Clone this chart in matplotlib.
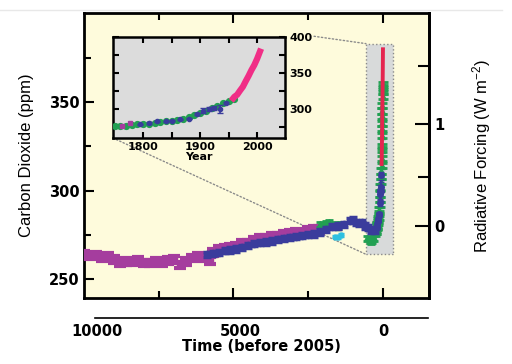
import matplotlib
matplotlib.use('Agg')
import matplotlib.pyplot as plt
from matplotlib.patches import Rectangle, ConnectionPatch
from matplotlib.lines import Line2D
from matplotlib.ticker import FixedLocator
import numpy as np

plt.rcParams['font.family'] = ['DejaVu Sans']
plt.rcParams['mathtext.fontset'] = 'custom'
plt.rcParams['mathtext.rm'] = 'Liberation Sans'
plt.rcParams['mathtext.it'] = 'Liberation Sans'

# ---------------- data ----------------
# long-term ice-core records (years before 2005, ppm)
magenta_bp = [10000, 9800, 9600, 9400, 9200, 9000, 8800, 8600, 8400, 8200, 8000, 7800,
              7600, 7400, 7200, 7000, 6800, 6600, 6400, 6200, 6000, 5800, 5700, 5500,
              5300, 5100, 4900, 4700, 4500, 4300, 4100, 3900, 3700, 3500, 3300, 3100,
              2900, 2700, 2500, 2300, 2150]
magenta_ppm = [264, 263, 263.5, 262, 263, 261, 259, 260, 259.5, 260.5, 259, 259,
               260, 259, 260.5, 261, 258, 260, 262, 263, 262, 260.5, 265, 267,
               267.5, 268, 268.5, 270, 270.5, 272, 273, 273, 274, 274.5, 275.5, 276,
               276.5, 276, 277.5, 278, 278]

blue_bp = [5900, 5700, 5500, 5300, 5100, 4900, 4700, 4500, 4300, 4100, 3900, 3700,
           3500, 3300, 3100, 2900, 2700, 2500, 2300, 2100, 1900, 1700, 1500, 1300,
           1100, 1000, 900, 800, 700, 600, 500, 400, 300, 250]
blue_ppm = [264, 264.5, 265, 266, 266.5, 267, 268, 269, 270, 270.5, 271, 271.5,
            272.5, 273, 273.5, 274, 274.5, 275, 275.5, 276.5, 278, 279.5, 280, 281,
            283, 283.5, 282, 281.5, 282, 280, 279, 277.5, 278, 277.5]

green_bp = [2100, 2000, 1900, 1800, 1700, 1600, 1500, 1400, 550, 450, 400, 350, 300]
green_ppm = [281, 280, 281.5, 282, 280, 280.5, 279.5, 281, 273, 272, 271.5, 272, 273]

cyan_bp = [1600, 1500, 1400]
cyan_ppm = [274, 273.5, 275]

# recent records (calendar year, ppm)
green_yr = [1750, 1760, 1770, 1780, 1790, 1800, 1810, 1820, 1830, 1840, 1850, 1860,
            1870, 1880, 1890, 1900, 1910, 1920, 1930, 1940, 1950, 1960]
green_yr_ppm = [276, 277, 277, 278, 279, 280, 280, 281, 282, 283, 284, 285,
                287, 289, 292, 295, 298, 302, 305, 308, 311, 314]

blue_yr = [1795, 1810, 1825, 1840, 1850, 1865, 1880, 1895, 1905, 1915, 1925, 1935, 1945]
blue_yr_ppm = [279, 281, 283, 283, 284, 286, 287, 293, 298, 300, 302, 300, 309]
blue_yr_err = [1, 1, 1, 1, 1, 1, 1, 1.5, 3, 3, 3, 6, 1.5]

magenta_yr = [1762, 1777]
magenta_yr_ppm = [277, 281]

mlo_yr = [1958, 1960, 1965, 1970, 1975, 1980, 1985, 1990, 1995, 2000, 2005]
mlo_ppm = [315, 317, 320, 325.7, 331, 338.7, 346, 354, 361, 369.7, 379.8]

green_recent_yr = [1962, 1968, 1970, 1975, 1978, 1980, 1983, 1985, 1987, 1990, 1992, 1993, 1995]
green_recent_ppm = [318, 323, 325, 331, 335, 338, 342, 345, 348, 353, 356, 358, 360]

rf_major = [0, 1]
rf_minor = [0.5, 1.5]
rf_c0 = 280.0

x_ticklabels = [10000, 5000, 0]

MAG = '#A53D9E'
BLU = '#3A3C9C'
GRN = '#22A052'
CYN = '#2EC0E0'
RED = '#E5244F'
PNK = '#F02E86'

W, H = 512, 364
fig = plt.figure(figsize=(5.12, 3.64), dpi=100)


def fx(px):
    return px / W


def fy(py):
    return 1 - py / H


fig.add_artist(Line2D([0, fx(502)], [fy(10), fy(10)], color='#E8E8E8', lw=1))

ax = fig.add_axes([fx(84), fy(298), fx(429) - fx(84), fy(13) - fy(298)])
ax.set_xlim(10000, -1540)
ax.set_ylim(239.3, 400.3)
ax.set_facecolor('#FEFBDC')
for s in ax.spines.values():
    s.set_linewidth(2)

# gray highlight box
box_x0, box_x1, box_y0, box_y1 = 570, -335, 264, 383
ax.add_patch(Rectangle((box_x1, box_y0), box_x0 - box_x1, box_y1 - box_y0,
                       facecolor='#D8DADA', edgecolor='#8A8A8A', lw=1, ls=':', zorder=1))

def bp(years):
    return [2005 - y for y in years]

ax.errorbar(magenta_bp, magenta_ppm, yerr=1.8, fmt='s', color=MAG, ms=4.5,
            elinewidth=2.5, capsize=4, capthick=3, zorder=3)
ax.errorbar(blue_bp, blue_ppm, yerr=1.5, fmt='o', color=BLU, ms=4.5,
            elinewidth=2, capsize=3, capthick=2.5, zorder=4)
ax.errorbar(cyan_bp, cyan_ppm, yerr=1, fmt='o', color=CYN, ms=3.5,
            elinewidth=1, capsize=2, zorder=3)
ax.errorbar(green_bp, green_ppm, yerr=1.5, fmt='^', color=GRN, ms=4.5,
            elinewidth=1.5, capsize=3, capthick=2, zorder=3.5)
ax.errorbar(bp(green_yr), green_yr_ppm, yerr=1.5, fmt='^', color=GRN, ms=4.5,
            elinewidth=1.5, capsize=3.5, capthick=2, zorder=3.5)
ax.errorbar(bp(green_recent_yr), green_recent_ppm, yerr=1.5, fmt='^', color=GRN, ms=4,
            elinewidth=1.5, capsize=3.5, capthick=2, zorder=3.5)
ax.errorbar(bp(blue_yr), blue_yr_ppm, yerr=blue_yr_err, fmt='o', color=BLU, ms=4,
            elinewidth=1.5, capsize=2.5, zorder=4)
ax.errorbar(bp(magenta_yr), magenta_yr_ppm, yerr=1.8, fmt='s', color=MAG, ms=3,
            elinewidth=1.5, capsize=3, zorder=3)
ax.plot(bp(mlo_yr), mlo_ppm, color=RED, lw=2.8, zorder=5)

ax.set_yticks([250, 300, 350])
ax.set_yticks([275, 325, 375], minor=True)
ax.set_xticks([5000, 0])
ax.set_xticks([7500, 2500], minor=True)
ax.tick_params(which='both', direction='in', top=True, bottom=True, left=True,
               right=False, labelbottom=False, width=1.5)
ax.tick_params(which='major', length=7, labelsize=10.5, pad=3)
ax.tick_params(which='minor', length=5)
for lab in ax.get_yticklabels():
    lab.set_fontweight('bold')
ax.set_ylabel('Carbon Dioxide (ppm)', family='Liberation Sans', fontsize=12, labelpad=11)

# radiative forcing axis
sec = ax.secondary_yaxis('right', functions=(lambda c: 5.35 * np.log(np.clip(c, 1e-6, None) / rf_c0),
                                             lambda f: rf_c0 * np.exp(np.asarray(f) / 5.35)))
sec.set_yticks(rf_major)
sec.yaxis.set_minor_locator(FixedLocator(rf_minor))
sec.tick_params(which='both', direction='in', width=1.5, labelsize=10.5, pad=4)
sec.tick_params(which='major', length=10)
sec.tick_params(which='minor', length=8)
for lab in sec.get_yticklabels():
    lab.set_fontweight('bold')
sec.spines['right'].set_linewidth(2)
sec.set_ylabel(r'Radiative Forcing (W m$^{-2}$)', family='Liberation Sans', fontsize=12,
               labelpad=18)

# detached time axis
lx0, lx1 = 95, 428
axl = fig.add_axes([fx(lx0), fy(318), fx(lx1) - fx(lx0), 0.0001])
axl.set_xlim(10070, -1573)
axl.set_facecolor('none')
axl.patch.set_visible(False)
for k in ['top', 'left', 'right']:
    axl.spines[k].set_visible(False)
axl.spines['bottom'].set_linewidth(1.2)
axl.set_yticks([])
axl.set_xticks(x_ticklabels)
axl.set_xticklabels([str(v) for v in x_ticklabels], fontweight='bold', fontsize=10.5)
axl.tick_params(axis='x', length=0, pad=4)
axl.set_xlabel('Time (before 2005)', fontweight='bold', fontsize=10.5, labelpad=0)

# inset
axi = fig.add_axes([fx(113), fy(138), fx(285) - fx(113), fy(37) - fy(138)])
axi.set_xlim(1747, 2049)
axi.set_ylim(260, 400)
axi.set_facecolor('#DCDCDC')
for s in axi.spines.values():
    s.set_linewidth(1.8)
axi.plot(green_yr, green_yr_ppm, 'o', color=GRN, ms=4.2, zorder=3)
axi.errorbar(blue_yr, blue_yr_ppm, yerr=blue_yr_err, fmt='o', color=BLU, ms=3,
             elinewidth=1.2, capsize=2, zorder=4)
axi.errorbar(magenta_yr, magenta_yr_ppm, yerr=1.5, fmt='s', color=MAG, ms=2.5,
             elinewidth=1, capsize=1.5, zorder=4)
axi.plot(mlo_yr, mlo_ppm, color=PNK, lw=4.5, zorder=5)
axi.set_xticks([1800, 1900, 2000])
axi.set_xticks([1850, 1950], minor=True)
axi.set_yticks([300, 350, 400])
axi.set_yticks([275, 325, 375], minor=True)
axi.tick_params(which='both', direction='in', top=True, bottom=True, left=True, right=True,
                labelleft=False, labelright=True, width=1.5, length=4, labelsize=8, pad=3)
for lab in axi.get_xticklabels() + axi.get_yticklabels():
    lab.set_fontweight('bold')
axi.set_xlabel('Year', fontweight='bold', fontsize=8, labelpad=0)

# dotted connectors
c1 = ConnectionPatch(xyA=(0, 0), coordsA=axi.transAxes, xyB=(box_x0, box_y0), coordsB=ax.transData,
                     color='#8A8A8A', lw=1, ls=':', zorder=2)
c2 = ConnectionPatch(xyA=(2100, 401), coordsA=axi.transData, xyB=(box_x0, box_y1), coordsB=ax.transData,
                     color='#8A8A8A', lw=1, ls=':', zorder=2)
ax.add_artist(c1)
ax.add_artist(c2)

fig.savefig('out.png', dpi=100, facecolor='white')
